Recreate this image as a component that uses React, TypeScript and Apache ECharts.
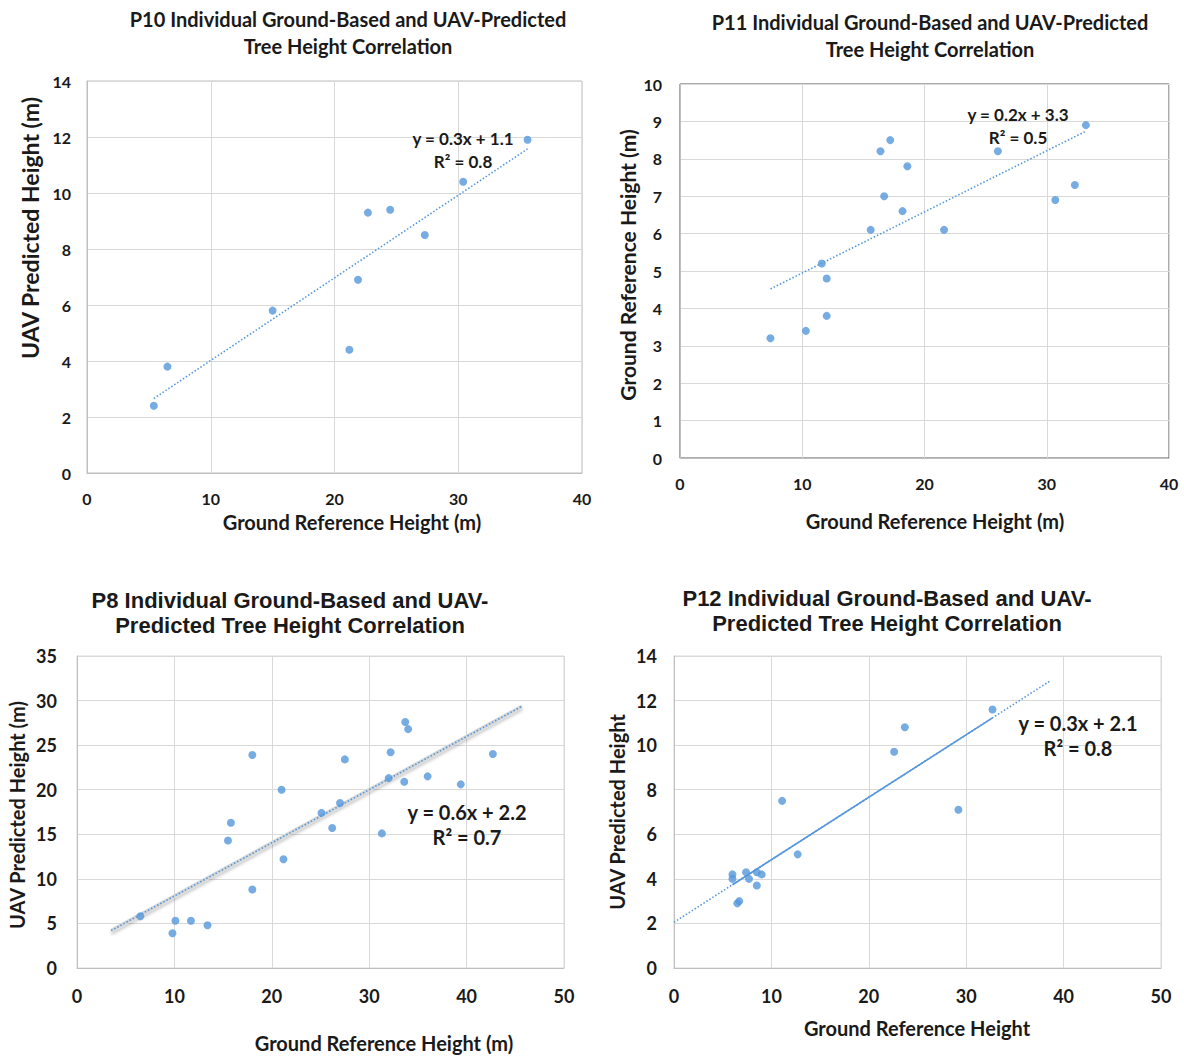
import React, { useEffect, useRef } from "react";
import * as echarts from "echarts";

// ---- Data ----
const p10X = [5.4, 6.5, 15.0, 21.2, 21.9, 22.7, 24.5, 27.3, 30.4, 35.6];
const p10Y = [2.4, 3.8, 5.8, 4.4, 6.9, 9.3, 9.4, 8.5, 10.4, 11.9];

const p11X = [7.4, 10.3, 12.0, 12.0, 11.6, 15.6, 16.7, 16.4, 17.2, 18.6, 18.2, 21.6, 26.0, 30.7, 32.3, 33.2];
const p11Y = [3.2, 3.4, 3.8, 4.8, 5.2, 6.1, 7.0, 8.2, 8.5, 7.8, 6.6, 6.1, 8.2, 6.9, 7.3, 8.9];

const p8X = [6.5, 10.1, 9.8, 11.7, 13.4, 15.5, 15.8, 18.0, 18.0, 21.0, 21.2, 25.1, 26.2, 27.0, 27.5, 31.3, 32.0, 32.2, 33.7, 34.0, 33.6, 36.0, 39.4, 42.7];
const p8Y = [5.8, 5.3, 3.9, 5.3, 4.8, 14.3, 16.3, 23.9, 8.8, 20.0, 12.2, 17.4, 15.7, 18.5, 23.4, 15.1, 21.3, 24.2, 27.6, 26.8, 20.9, 21.5, 20.6, 24.0];

const p12X = [6.0, 6.0, 6.5, 6.7, 7.4, 7.7, 8.5, 8.5, 9.0, 11.1, 12.7, 22.6, 23.7, 29.2, 32.7];
const p12Y = [4.2, 4.0, 2.9, 3.0, 4.3, 4.0, 4.3, 3.7, 4.2, 7.5, 5.1, 9.7, 10.8, 7.1, 11.6];

const titles = [
  "P10 Individual Ground-Based and UAV-Predicted\nTree Height Correlation",
  "P11 Individual Ground-Based and UAV-Predicted\nTree Height Correlation",
  "P8 Individual Ground-Based and UAV-\nPredicted Tree Height Correlation",
  "P12 Individual Ground-Based and UAV-\nPredicted Tree Height Correlation",
];
const equations = [
  "y = 0.3x + 1.1\nR² = 0.8",
  "y = 0.2x + 3.3\nR² = 0.5",
  "y = 0.6x + 2.2\nR² = 0.7",
  "y = 0.3x + 2.1\nR² = 0.8",
];
const xNames = ["Ground Reference Height (m)", "Ground Reference Height (m)", "Ground Reference Height (m)", "Ground Reference Height"];
const yNames = ["UAV Predicted Height (m)", "Ground Reference Height (m)", "UAV Predicted Height (m)", "UAV Predicted Height"];

// trendline forecast (backward, forward) in x units
const trendExtend = [
  [0, 0],
  [0, 0],
  [3, 3],
  [6, 6],
];

const BLUE = "#5597dc";
const CALIBRI = "Lato, 'Open Sans', sans-serif";
const ARIAL = "'Liberation Sans', Arial, sans-serif";

function fit(xs: number[], ys: number[]) {
  const n = xs.length;
  const mx = xs.reduce((a, b) => a + b, 0) / n;
  const my = ys.reduce((a, b) => a + b, 0) / n;
  let sxy = 0;
  let sxx = 0;
  for (let i = 0; i < n; i++) {
    sxy += (xs[i] - mx) * (ys[i] - my);
    sxx += (xs[i] - mx) * (xs[i] - mx);
  }
  const a = sxy / sxx;
  return { a, b: my - a * mx, min: Math.min(...xs), max: Math.max(...xs) };
}

const zip = (xs: number[], ys: number[]) => xs.map((x, i) => [x, ys[i]]);

export default function App() {
  const ref = useRef<HTMLDivElement>(null);

  useEffect(() => {
    if (!ref.current) return;
    const chart = echarts.init(ref.current, undefined, { renderer: "svg" });

    const grids = [
      { left: 87, top: 81, width: 495, height: 392, borderColor: "#bfbfbf" },
      { left: 680, top: 84, width: 489, height: 374, borderColor: "#595959" },
      { left: 77, top: 656, width: 487, height: 312, borderColor: "#d9d9d9" },
      { left: 674, top: 656, width: 487, height: 312, borderColor: "#d9d9d9" },
    ];
    const xCfg = [
      { max: 40, interval: 10, font: 16, margin: 17 },
      { max: 40, interval: 10, font: 16, margin: 17 },
      { max: 50, interval: 10, font: 18, margin: 19 },
      { max: 50, interval: 10, font: 18, margin: 19 },
    ];
    const yCfg = [
      { max: 14, interval: 2, font: 16, margin: 16 },
      { max: 10, interval: 1, font: 16, margin: 18 },
      { max: 35, interval: 5, font: 18, margin: 20 },
      { max: 14, interval: 2, font: 18, margin: 17 },
    ];

    const datasets = [
      [p10X, p10Y],
      [p11X, p11Y],
      [p8X, p8Y],
      [p12X, p12Y],
    ];

    const series: any[] = [];
    datasets.forEach(([xs, ys], i) => {
      const f = fit(xs, ys);
      const x0 = f.min - trendExtend[i][0];
      const x1 = f.max + trendExtend[i][1];
      const lineBase = {
        type: "line",
        xAxisIndex: i,
        yAxisIndex: i,
        showSymbol: false,
        symbol: "none",
        silent: true,
      };
      if (i === 2) {
        series.push({
          ...lineBase,
          z: 1,
          data: [
            [x0, f.a * x0 + f.b],
            [x1, f.a * x1 + f.b],
          ],
          lineStyle: { color: "#d6d6d6", width: 3.5, shadowColor: "rgba(0,0,0,0.22)", shadowBlur: 3, shadowOffsetY: 2.5 },
        });
      }
      series.push({
        ...lineBase,
        z: 2,
        data: [
          [x0, f.a * x0 + f.b],
          [x1, f.a * x1 + f.b],
        ],
        lineStyle: { color: BLUE, width: 1.6, type: [1.5, 2] },
      });
      if (i === 3) {
        series.push({
          ...lineBase,
          z: 2,
          data: [
            [f.min, f.a * f.min + f.b],
            [f.max, f.a * f.max + f.b],
          ],
          lineStyle: { color: BLUE, width: 1.6, type: "solid" },
        });
      }
      series.push({
        type: "scatter",
        xAxisIndex: i,
        yAxisIndex: i,
        z: 3,
        symbolSize: 8,
        itemStyle: { color: BLUE },
        data: zip(xs, ys),
      });
    });

    const txt = (x: number, y: number, text: string, size: number, family: string, extra: any = {}) => ({
      type: "text",
      x,
      y,
      z: 10,
      ...extra,
      style: {
        text,
        fill: "#1a1a1a",
        font: `bold ${size}px ${family}`,
        align: "center",
        verticalAlign: "middle",
        lineHeight: extra.lineHeight || size * 1.4,
      },
    });

    const graphic: any[] = [
      txt(348, 32, titles[0], 20, CALIBRI, { lineHeight: 27 }),
      txt(930, 35, titles[1], 20, CALIBRI, { lineHeight: 27 }),
      txt(290, 613, titles[2], 22, ARIAL, { lineHeight: 25 }),
      txt(887, 611, titles[3], 22, ARIAL, { lineHeight: 25 }),
      txt(352, 522, xNames[0], 20, CALIBRI),
      txt(935, 521, xNames[1], 20, CALIBRI),
      txt(384, 1043, xNames[2], 20, CALIBRI),
      txt(917, 1028, xNames[3], 20, CALIBRI),
      txt(30, 228, yNames[0], 23, CALIBRI, { rotation: Math.PI / 2 }),
      txt(627, 265, yNames[1], 21, CALIBRI, { rotation: Math.PI / 2 }),
      txt(17, 815, yNames[2], 20, CALIBRI, { rotation: Math.PI / 2 }),
      txt(617, 812, yNames[3], 20, CALIBRI, { rotation: Math.PI / 2 }),
      txt(463, 150, equations[0], 17, CALIBRI, { lineHeight: 23 }),
      txt(1018, 126, equations[1], 17, CALIBRI, { lineHeight: 23 }),
      txt(467, 824, equations[2], 20, CALIBRI, { lineHeight: 25 }),
      txt(1078, 735, equations[3], 20, CALIBRI, { lineHeight: 25 }),
    ];

    chart.setOption({
      animation: false,
      backgroundColor: "#ffffff",
      grid: grids.map((g) => ({ ...g, show: true, borderWidth: 1, containLabel: false })),
      xAxis: xCfg.map((c, i) => ({
        type: "value",
        gridIndex: i,
        min: 0,
        max: c.max,
        interval: c.interval,
        axisLine: { show: true, lineStyle: { color: "#bfbfbf" } },
        axisTick: { show: false },
        splitLine: { show: true, lineStyle: { color: "#d9d9d9" } },
        axisLabel: { color: "#1a1a1a", fontSize: c.font, fontWeight: "bold", fontFamily: CALIBRI, margin: c.margin },
      })),
      yAxis: yCfg.map((c, i) => ({
        type: "value",
        gridIndex: i,
        min: 0,
        max: c.max,
        interval: c.interval,
        axisLine: { show: true, lineStyle: { color: "#bfbfbf" } },
        axisTick: { show: false },
        splitLine: { show: true, lineStyle: { color: "#d9d9d9" } },
        axisLabel: { color: "#1a1a1a", fontSize: c.font, fontWeight: "bold", fontFamily: CALIBRI, margin: c.margin },
      })),
      series,
      graphic,
    });

    return () => chart.dispose();
  }, []);

  return (
    <div
      ref={ref}
      style={{ position: "fixed", left: 0, top: 0, width: 1184, height: 1057, background: "#fff" }}
    />
  );
}
